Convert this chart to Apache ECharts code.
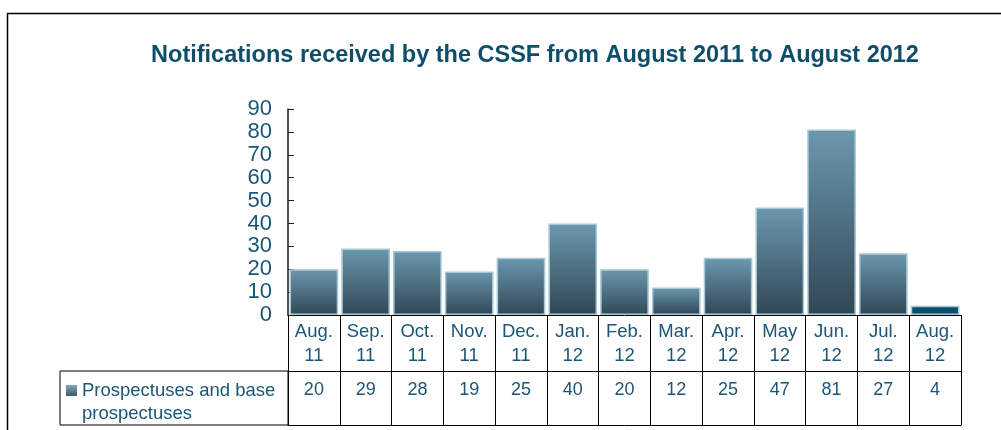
<!DOCTYPE html>
<html><head><meta charset="utf-8">
<script src="https://cdn.jsdelivr.net/npm/echarts@6/dist/echarts.min.js"></script>
<style>html,body{margin:0;padding:0;background:#fff}#c{width:1001px;height:430px}</style>
</head><body><div id="c"></div>
<script>
const titleText = 'Notifications received by the CSSF from August 2011 to August 2012';
const categories = ['Aug.\n11','Sep.\n11','Oct.\n11','Nov.\n11','Dec.\n11','Jan.\n12','Feb.\n12','Mar.\n12','Apr.\n12','May\n12','Jun.\n12','Jul.\n12','Aug.\n12'];
const values = [20, 29, 28, 19, 25, 40, 20, 12, 25, 47, 81, 27, 4];
const seriesName = 'Prospectuses and base prospectuses';
const yMin = 0, yMax = 90, yInterval = 10;

const txt = '#1b5676';
const font = 'Liberation Sans, Arial, sans-serif';
const barGrad = {type:'linear',x:0,y:0,x2:0,y2:1,colorStops:[{offset:0,color:'#6b98ae'},{offset:1,color:'#304755'}]};
const lastIdx = values.length - 1;
const barData = values.map((v,i)=> i===lastIdx ? {value:v, itemStyle:{color:'#0b4f6e'}} : v);

const chart = echarts.init(document.getElementById('c'), null, {renderer:'canvas'});
chart.setOption({
  animation:false,
  backgroundColor:'#fff',
  title:{text:titleText, left:535, top:44, padding:0, textAlign:'center',
    textStyle:{fontFamily:font, fontSize:23.5, fontWeight:'bold', color:'#0e4e6b'}},
  graphic:[{type:'rect', x:7.5, y:13.5, shape:{width:1100, height:500}, silent:true,
    style:{fill:'none', stroke:'#000', lineWidth:1.5}}],
  legend:{left:60, top:371, orient:'vertical', selectedMode:false,
    padding:[8,6,0,6], borderColor:'#000', borderWidth:1,
    itemWidth:11, itemHeight:34, itemGap:0,
    icon:'path://M0,0L11,0L11,11L0,11Z M0,34L0.01,34',
    itemStyle:{borderWidth:0, color:{type:'linear',x:0,y:0,x2:0,y2:1,colorStops:[{offset:0,color:'#86a9bb'},{offset:0.32,color:'#3d5867'},{offset:1,color:'#3d5867'}]}},
    formatter:n=>n.replace('base ','base\n'),
    textStyle:{fontFamily:font, fontSize:18.5, color:txt, lineHeight:23, width:200}},
  grid:{left:288, right:40, top:109, bottom:115, containLabel:false},
  xAxis:[
    {type:'category', data:categories, boundaryGap:true, position:'bottom',
      axisLine:{lineStyle:{color:'#000', width:1}},
      axisTick:{show:true, interval:0, length:110, alignWithLabel:false, lineStyle:{color:'#000', width:1}},
      axisLabel:{interval:0, margin:5, fontFamily:font, fontSize:18.5, color:txt, lineHeight:24}},
    {type:'category', data:categories, position:'bottom', offset:56,
      axisLine:{lineStyle:{color:'#000', width:1}}, axisTick:{show:false},
      axisLabel:{interval:0, margin:9, fontFamily:font, fontSize:18, color:txt, lineHeight:20,
        formatter:(v,i)=>String(values[i])}},
    {type:'category', data:categories, position:'bottom', offset:110,
      axisLine:{lineStyle:{color:'#000', width:1}}, axisTick:{show:false}, axisLabel:{show:false}}
  ],
  yAxis:{type:'value', min:yMin, max:yMax, interval:yInterval,
    axisLine:{show:true, lineStyle:{color:'#1a1a1a', width:1.5}},
    axisTick:{show:true, inside:true, length:6, lineStyle:{color:'#1a1a1a'}},
    splitLine:{show:false},
    axisLabel:{margin:16, fontFamily:font, fontSize:22, color:txt}},
  series:[{name:seriesName, type:'bar', data:barData, barCategoryGap:'6%',
    itemStyle:{color:barGrad, borderColor:'#a9c7d4', borderWidth:1.5}}]
});
</script></body></html>
